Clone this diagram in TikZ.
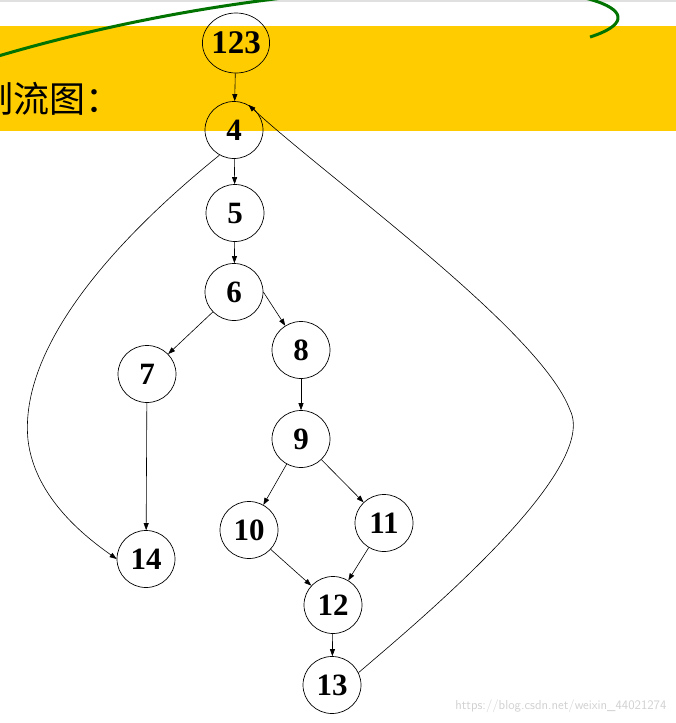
\documentclass[tikz,border=0pt]{standalone}
\usepackage{fontspec}
\setmainfont{Liberation Serif}
\newfontfamily\cjk{Noto Sans CJK SC}
\usetikzlibrary{arrows.meta,shapes.geometric}
\tikzset{
  nd/.style={ellipse,draw,line width=0.7pt,minimum width=58pt,minimum height=57pt,inner sep=0pt,font=\fontsize{31}{31}\selectfont\bfseries},
  ar/.style={-{Triangle[length=7pt,width=5pt]},line width=0.6pt}
}
\begin{document}
\begin{tikzpicture}[x=1pt,y=-1pt]
\useasboundingbox (0,0) rectangle (676,723);
\clip (0,0) rectangle (676,723);
\fill[white] (0,0) rectangle (676,723);
\fill[black!12] (0,0) rectangle (676,1.5);
\fill[fill={rgb,255:red,255;green,204;blue,0}] (0,26) rectangle (676,131);
\draw[line width=3pt,green!45!black] (-5,57) .. controls (120,20) and (260,-5) .. (400,-12) .. controls (600,-20) and (660,15) .. (590,37);
\node[anchor=west,font=\cjk\fontsize{36}{36}\selectfont] (title) at (-26,99) {制流图：};
\node[nd,font=\fontsize{33}{33}\selectfont\bfseries,minimum height=60pt,minimum width=58pt] (n123) at (236,43) {\kern-1pt123\kern-1pt};
\node[nd] (n4) at (234,130) {4};
\node[nd] (n5) at (235,213) {5};
\node[nd] (n6) at (234,292) {6};
\node[nd] (n7) at (147,374) {7};
\node[nd] (n8) at (301,350) {8};
\node[nd] (n9) at (301,439) {9};
\node[nd] (n10) at (249,530) {10};
\node[nd] (n11) at (384,523) {11};
\node[nd] (n12) at (333,605) {12};
\node[nd] (n13) at (332,685) {13};
\node[nd] (n14) at (146,559) {14};
\draw[ar] (n123) -- (n4);
\draw[ar] (n4) -- (n5);
\draw[ar] (n5) -- (n6);
\draw[ar] (n6) -- (n7);
\draw[ar] (n6.east) -- (n8);
\draw[ar] (n7) -- (n14);
\draw[ar] (n8) -- (n9);
\draw[ar] (n9) -- (n10);
\draw[ar] (n9) -- (n11);
\draw[ar] (n10) -- (n12);
\draw[ar] (n11) -- (n12);
\draw[ar] (n12) -- (n13);
\draw[ar] (n4.240) .. controls (90,260) and (20,360) .. (28,440) .. controls (35,500) and (90,540) .. (n14.west);
\draw[ar] (n13.25) .. controls (420,620) and (600,470) .. (570,410) .. controls (540,330) and (330,180) .. (n4.60);
\node[anchor=east,text=black!18,font=\fontsize{13}{13}\selectfont\sffamily] (wm) at (670,706) {https://blog.csdn.net/weixin\_44021274};
\end{tikzpicture}
\end{document}
